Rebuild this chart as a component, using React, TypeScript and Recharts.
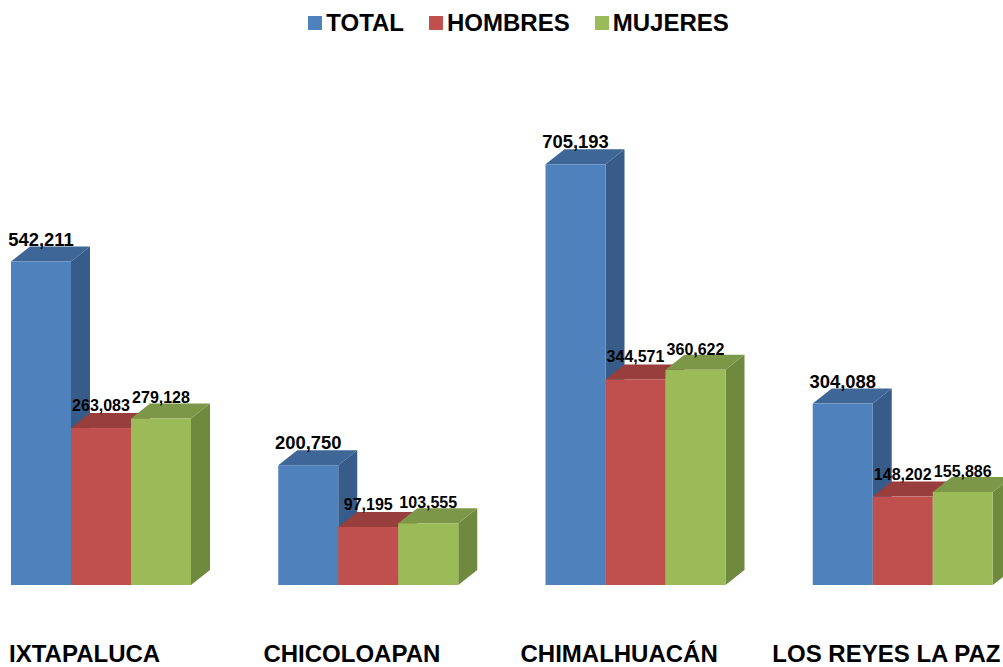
import { BarChart, Bar, XAxis, YAxis, Legend, LabelList } from "recharts";

const municipios = ["IXTAPALUCA", "CHICOLOAPAN", "CHIMALHUACÁN", "LOS REYES LA PAZ"];
const total = [542211, 200750, 705193, 304088];
const hombres = [263083, 97195, 344571, 148202];
const mujeres = [279128, 103555, 360622, 155886];

const FONT = "'Liberation Sans', Arial, sans-serif";
const DEPTH_X = 19;
const DEPTH_Y = 15;

const data = municipios.map((name, i) => ({
  name,
  total: total[i],
  hombres: hombres[i],
  mujeres: mujeres[i],
}));

// front, top and side faces of a box; Recharts hands us the scaled rectangle
const box3d = (front: string, top: string, side: string) => (props: any) => {
  const { x, y, width, height } = props;
  const r = x + width;
  const b = y + height;
  return (
    <g>
      <polygon
        points={`${r},${y} ${r + DEPTH_X},${y - DEPTH_Y} ${r + DEPTH_X},${b - DEPTH_Y} ${r},${b}`}
        fill={side}
      />
      <polygon
        points={`${x},${y} ${x + DEPTH_X},${y - DEPTH_Y} ${r + DEPTH_X},${y - DEPTH_Y} ${r},${y}`}
        fill={top}
      />
      <rect x={x} y={y} width={width} height={height} fill={front} />
    </g>
  );
};

const fmt = (v: any) => Number(v).toLocaleString("en-US");

const LegendRow = ({ payload }: any) => (
  <div style={{ display: "flex", justifyContent: "center", fontFamily: FONT, fontWeight: "bold", fontSize: 24, color: "#000", lineHeight: "28px" }}>
    {(payload || []).map((p: any) => (
      <div key={p.value} style={{ display: "flex", alignItems: "center", margin: "0 12.5px" }}>
        <span style={{ width: 14, height: 14, background: p.color, marginRight: 4, display: "inline-block" }} />
        {p.value}
      </div>
    ))}
  </div>
);

export default function App() {
  return (
    <div style={{ position: "absolute", left: 0, top: 0, width: 1003, height: 667, overflow: "hidden", background: "#fff" }}>
      <div style={{ position: "absolute", left: -33, top: 0 }}>
        <BarChart
          width={1069}
          height={667}
          data={data}
          margin={{ top: 32, right: 0, bottom: 0, left: 0 }}
          barCategoryGap={44}
          barGap={0}
        >
          <XAxis
            dataKey="name"
            height={82}
            axisLine={false}
            tickLine={false}
            interval={0}
            tick={{ fontFamily: FONT, fontWeight: "bold", fontSize: 24, fill: "#000", dx: -16, dy: 52 }}
          />
          <YAxis hide domain={[0, 880000]} />
          <Legend
            verticalAlign="top"
            itemSorter={null}
            content={<LegendRow />}
            wrapperStyle={{ top: 9, left: 17, width: 1069 }}
          />
          <Bar dataKey="total" name="TOTAL" fill="#4F81BD" isAnimationActive={false} shape={box3d("#4F81BD", "#3E6696", "#375C8A")}>
            <LabelList dataKey="total" position="top" offset={16} formatter={fmt} fill="#000" fontFamily={FONT} fontWeight="bold" fontSize={18.4} />
          </Bar>
          <Bar dataKey="hombres" name="HOMBRES" fill="#C0504D" isAnimationActive={false} shape={box3d("#C0504D", "#983F3D", "#8C3A38")}>
            <LabelList dataKey="hombres" position="top" offset={17} formatter={fmt} fill="#000" fontFamily={FONT} fontWeight="bold" fontSize={16} />
          </Bar>
          <Bar dataKey="mujeres" name="MUJERES" fill="#9BBB59" isAnimationActive={false} shape={box3d("#9BBB59", "#7C9747", "#6F8A3F")}>
            <LabelList dataKey="mujeres" position="top" offset={15} formatter={fmt} fill="#000" fontFamily={FONT} fontWeight="bold" fontSize={16} />
          </Bar>
        </BarChart>
      </div>
    </div>
  );
}
